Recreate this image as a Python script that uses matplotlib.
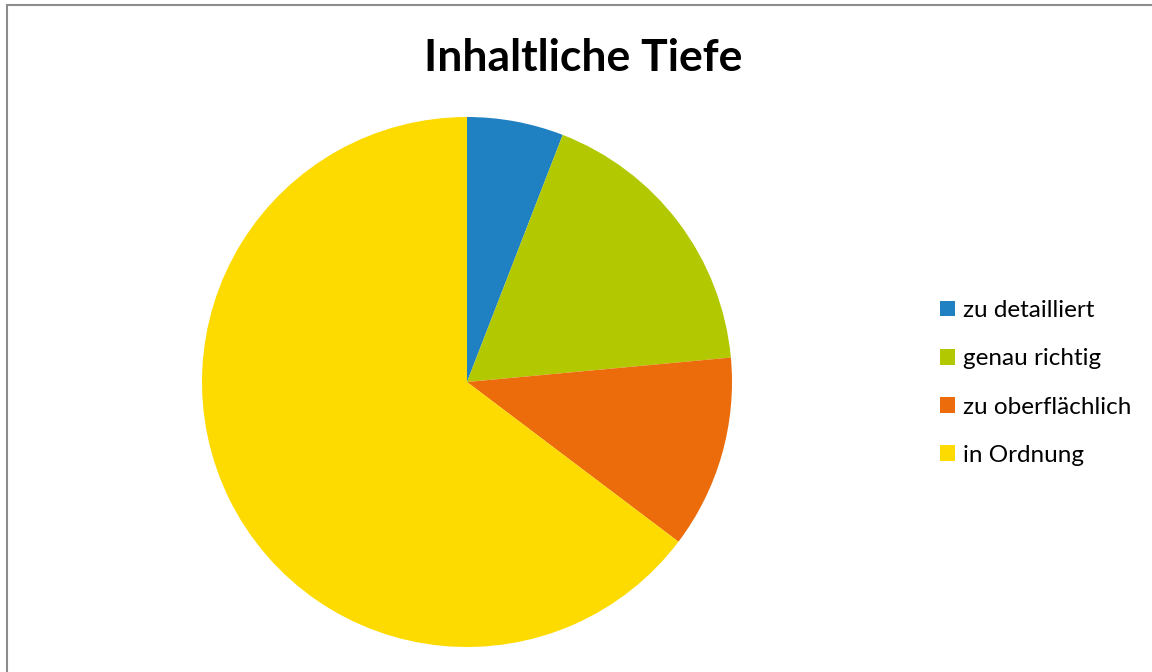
import matplotlib.pyplot as plt
from matplotlib.patches import Patch, Rectangle

labels = ['zu detailliert', 'genau richtig', 'zu oberflächlich', 'in Ordnung']
counts = [1, 3, 2, 11]
colors = ['#1F80C2', '#B2C800', '#EC6C0C', '#FDDB00']

plt.rcParams['font.family'] = ['Lato', 'DejaVu Sans']

fig = plt.figure(figsize=(11.52, 6.72), dpi=100)

# chart area frame
fig.patches.append(Rectangle((6.5 / 1152, -0.1), 1.2, 1.1 - 5.5 / 672,
                             transform=fig.transFigure, fill=False,
                             edgecolor='#8c8c8c', linewidth=1.5))

ax = fig.add_axes([202 / 1152, 25 / 672, 530 / 1152, 530 / 672])
ax.pie(counts, colors=colors, startangle=90, counterclock=False, radius=1,
       wedgeprops=dict(edgecolor='none', linewidth=0))
ax.set_xlim(-1, 1)
ax.set_ylim(-1, 1)
ax.set_aspect('equal')
ax.axis('off')

fig.text(583 / 1152, 1 - 58 / 672, 'Inhaltliche Tiefe', ha='center', va='center',
         fontsize=32, fontweight='bold')

handles = [Patch(facecolor=c, edgecolor='none') for c in colors]
fig.legend(handles, labels, loc='center left', bbox_to_anchor=(928 / 1152, 1 - 383 / 672),
           frameon=False, fontsize=17.5, handlelength=0.62, handleheight=0.62,
           handletextpad=0.3, labelspacing=1.12, borderpad=0)

fig.savefig('out.png', dpi=100)
